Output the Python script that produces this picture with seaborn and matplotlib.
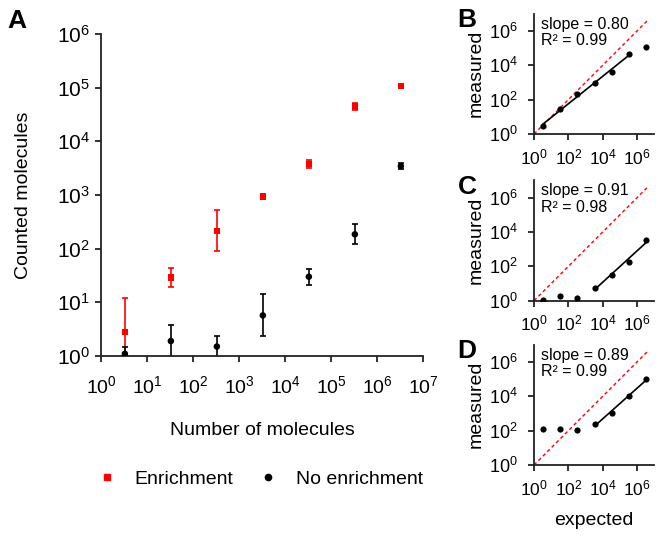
import numpy as np
import pandas as pd
import matplotlib
matplotlib.use("Agg")
import matplotlib.pyplot as plt
from matplotlib.ticker import NullLocator, FixedLocator, LogFormatterSciNotation
from matplotlib.lines import Line2D
import seaborn as sns

# ---------------- data ----------------
molecules = [3.3, 33, 330, 3300, 33000, 330000, 3300000]

enr_mean = [2.8, 29, 215, 940, 3800, 45000, 108000]
enr_low = [0.5, 19.5, 90, 900, 3250, 38000, 104000]
enr_high = [12.2, 44, 517, 990, 4400, 52000, 113000]

noenr_mean = [1.1, 1.9, 1.5, 5.7, 30, 185, 3450]
noenr_low = [0.5, 0.5, 0.5, 2.4, 21, 122, 3050]
noenr_high = [1.5, 3.8, 2.4, 14.3, 42, 283, 3900]

measured_B = enr_mean
measured_C = noenr_mean
measured_D = [122, 118, 112, 230, 1050, 9800, 102000]

fit_idx_B = [0, 1, 2, 3, 4, 5]
fit_idx_C = [3, 4, 5, 6]
fit_idx_D = [3, 4, 5, 6]

stats_B = ("0.80", "0.99")
stats_C = ("0.91", "0.98")
stats_D = ("0.89", "0.99")

identity_range = [1, 4e6]

series_names = ["Enrichment", "No enrichment"]

# ---------------- style ----------------
sns.set_theme(style="ticks")
plt.rcParams["font.family"] = ["Liberation Sans", "DejaVu Sans"]
plt.rcParams["mathtext.fontset"] = "custom"
plt.rcParams["mathtext.rm"] = "Liberation Sans"
plt.rcParams["mathtext.default"] = "regular"
plt.rcParams["text.color"] = "black"
plt.rcParams["axes.labelcolor"] = "black"

SPINE = "#222222"
RED = "#ff0000"

fig = plt.figure(figsize=(6.61, 5.37), dpi=100)
W, H = 661, 537

def add_ax(left, top, right, bottom):
    return fig.add_axes([left / W, 1 - bottom / H, (right - left) / W, (bottom - top) / H])

def style_ax(ax, xfs, yfs, xpad, ypad, ticks_x, ticks_y):
    ax.set_xscale("log")
    ax.set_yscale("log")
    for s in ["top", "right"]:
        ax.spines[s].set_visible(False)
    for s in ["left", "bottom"]:
        ax.spines[s].set_color(SPINE)
        ax.spines[s].set_linewidth(1.3)
    ax.xaxis.set_major_locator(FixedLocator(ticks_x))
    ax.yaxis.set_major_locator(FixedLocator(ticks_y))
    ax.xaxis.set_minor_locator(NullLocator())
    ax.yaxis.set_minor_locator(NullLocator())
    ax.xaxis.set_major_formatter(LogFormatterSciNotation())
    ax.yaxis.set_major_formatter(LogFormatterSciNotation())
    ax.tick_params(axis="x", which="major", direction="out", length=4.5, width=1.3,
                   color=SPINE, labelsize=xfs, labelcolor="black", pad=xpad)
    ax.tick_params(axis="y", which="major", direction="out", length=4.0, width=1.3,
                   color=SPINE, labelsize=yfs, labelcolor="black", pad=ypad)
    ax.set_facecolor("none")

# ---------------- Panel A ----------------
axA = add_ax(101, 34, 423, 356)
style_ax(axA, 14, 15, 9, 4, [10.0 ** k for k in range(0, 8)], [10.0 ** k for k in range(0, 7)])

dfA = pd.DataFrame({
    "x": molecules * 2,
    "y": enr_mean + noenr_mean,
    "series": [series_names[0]] * len(molecules) + [series_names[1]] * len(molecules),
})

for mean, lo, hi, col in [(enr_mean, enr_low, enr_high, RED), (noenr_mean, noenr_low, noenr_high, "black")]:
    m = np.array(mean)
    yerr = np.vstack([m - np.array(lo), np.array(hi) - m])
    axA.errorbar(molecules, m, yerr=yerr, fmt="none", ecolor=col, elinewidth=1.2,
                 capsize=2.5, capthick=1.2, zorder=2)

sns.scatterplot(data=dfA, x="x", y="y", hue="series", style="series",
                palette={series_names[0]: RED, series_names[1]: "black"},
                markers={series_names[0]: "s", series_names[1]: "o"},
                s=22, linewidth=0, ax=axA, legend=False, zorder=3)
axA.set_xlim(1, 1e7)
axA.set_ylim(1, 1e6)
axA.set_xlabel("Number of molecules", fontsize=14, labelpad=18)
axA.set_ylabel("Counted molecules", fontsize=14, labelpad=18)

handles = [
    Line2D([], [], marker="s", color=RED, linestyle="none", markersize=5),
    Line2D([], [], marker="o", color="black", linestyle="none", markersize=4.5),
]
fig.legend(handles, series_names, loc="center", bbox_to_anchor=(260 / W, 1 - 479 / H),
           ncol=2, frameon=False, fontsize=14, handletextpad=0.95, columnspacing=1.25,
           handlelength=1.0)

fig.text(17 / W, 1 - 21 / H, "A", fontsize=19, fontweight="bold", ha="center", va="center")

# ---------------- Panels B, C, D ----------------
def small_panel(top, bottom, measured, fit_idx, stats, label, show_xlabel):
    ax = add_ax(534, top, 654.4, bottom)
    dec = [10.0 ** k for k in (0, 2, 4, 6)]
    style_ax(ax, 12.5, 13, 5, 8, dec, dec)
    ax.plot(identity_range, identity_range, color=RED, linestyle=(0, (2.5, 2.0)), linewidth=1.0, zorder=1)
    lx = np.log10(np.array(molecules)[fit_idx])
    ly = np.log10(np.array(measured)[fit_idx])
    slope, icpt = np.polyfit(lx, ly, 1)
    fx = np.array([lx.min(), lx.max()])
    dfl = pd.DataFrame({"x": 10 ** fx, "y": 10 ** (icpt + slope * fx)})
    sns.lineplot(data=dfl, x="x", y="y", color="black", linewidth=1.2, ax=ax, zorder=2)
    dfp = pd.DataFrame({"x": molecules, "y": measured})
    sns.scatterplot(data=dfp, x="x", y="y", color="black", s=20, linewidth=0, ax=ax, zorder=3)
    ax.set_xlim(1, 1e7)
    ax.set_ylim(1, 1e7)
    ax.set_ylabel("measured", fontsize=14, labelpad=3)
    if show_xlabel:
        ax.set_xlabel("expected", fontsize=14, labelpad=10)
    else:
        ax.set_xlabel("")
    ax.text(0.06, 0.975, f"slope = {stats[0]}", transform=ax.transAxes, fontsize=11.5,
            ha="left", va="top")
    ax.text(0.06, 0.835, f"R² = {stats[1]}", transform=ax.transAxes, fontsize=11.5,
            ha="left", va="top")
    fig.text(467 / W, 1 - (top + 6.5) / H, label, fontsize=19, fontweight="bold",
             ha="center", va="center")
    return ax

small_panel(13.6, 134, measured_B, fit_idx_B, stats_B, "B", False)
small_panel(180.3, 300.7, measured_C, fit_idx_C, stats_C, "C", False)
small_panel(344.6, 465, measured_D, fit_idx_D, stats_D, "D", True)

fig.savefig("out.png", dpi=100)
